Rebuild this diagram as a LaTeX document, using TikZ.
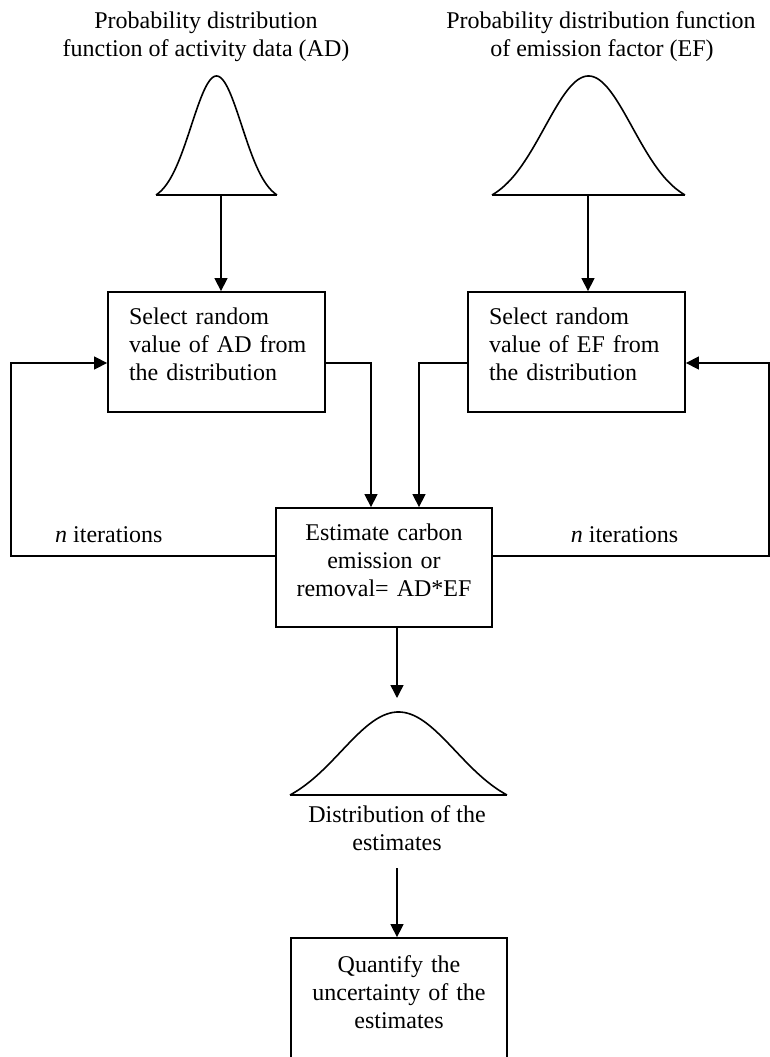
\documentclass[tikz,border=0pt]{standalone}
\usepackage{fontspec}
\setmainfont{Liberation Serif}
\usetikzlibrary{arrows.meta,calc}
\newcommand\drawbell[5]{%
  \draw[bellline] plot[domain=-1:1, samples=121, smooth]
    ({#1+#3*\x}, {#2-#4*(exp(-(#5*#5*\x*\x)/2)-exp(-(#5*#5)/2))/(1-exp(-(#5*#5)/2))});
  \draw[bellline] (#1-#3,#2) -- (#1+#3,#2);
}
\begin{document}
\begin{tikzpicture}[x=1pt,y=-1pt,
  every node/.style={font=\fontsize{24}{28}\selectfont},
  box/.style={draw, line width=1.8pt, inner ysep=0pt},
  sel/.style={box, minimum width=217pt, minimum height=120pt, text width=175pt, inner xsep=21pt, align=left, text depth=72.4pt},
  conn/.style={line width=1.4pt},
  arr/.style={conn, -{Triangle[length=13pt,width=13pt]}},
  bellline/.style={line width=1.6pt},
  lbl/.style={inner sep=0pt, align=center}
]
\useasboundingbox (0,0) rectangle (769,1057);

% titles
\node[lbl, anchor=north] (t1) at (206,11.6) {Probability distribution\\function of activity data (AD)};
\node[lbl, align=left, anchor=north] (t2) at (601,11.6) {Probability distribution function\\\hspace*{44pt}of emission factor (EF)};

% bell curves
\drawbell{216.5}{195}{60.5}{119}{2.4}
\drawbell{588.5}{195}{96.5}{119}{2.2}
\drawbell{398.5}{795}{108.5}{83}{1.9}
\coordinate (b1) at (221,195);
\coordinate (b2) at (588,195);
\coordinate (b3) at (397,698);

% boxes
\node[sel] (s1) at (216.5,352) {\mbox{Select random}\\\mbox{value of AD from}\\\mbox{the distribution}};
\node[sel] (s2) at (576.5,352) {\mbox{Select random}\\\mbox{value of EF from}\\\mbox{the distribution}};
\node[box, minimum width=216pt, minimum height=119pt, text width=216pt, inner xsep=0pt, align=center, text depth=71pt] (est) at (384,567.5) {Estimate carbon\\emission or\\removal= AD*EF};
\node[lbl, anchor=north] (dl) at (397,805.6) {Distribution of the\\estimates};
\node[box, minimum width=216pt, minimum height=122pt, text width=216pt, inner xsep=0pt, align=center, text depth=70.4pt] (q) at (399,999) {Quantify the\\uncertainty of the\\estimates};

% labels
\node[anchor=base west, inner sep=0pt] (n1) at (55,542) {\textit{n} iterations};
\node[anchor=base, inner sep=0pt] (n2) at (624.5,542) {\textit{n} iterations};

% connectors
\draw[arr] (b1) -- (b1 |- s1.north);
\draw[arr] (b2) -- (b2 |- s2.north);
\draw[arr] ([yshift=-11pt]s1.east) -| ([xshift=-13pt]est.north);
\draw[arr] ([yshift=-11pt]s2.west) -| ([xshift=35pt]est.north);
\draw[arr] ([yshift=11.5pt]est.west) -- ++(-264,0) |- ([yshift=-11pt]s1.west);
\draw[arr] ([yshift=11.5pt]est.east) -- ++(276,0) |- ([yshift=-11pt]s2.east);
\draw[arr] ([xshift=13pt]est.south) -- (b3);
\draw[arr] ([yshift=-17pt]dl.south) -- (dl.south |- q.north);
\end{tikzpicture}
\end{document}
